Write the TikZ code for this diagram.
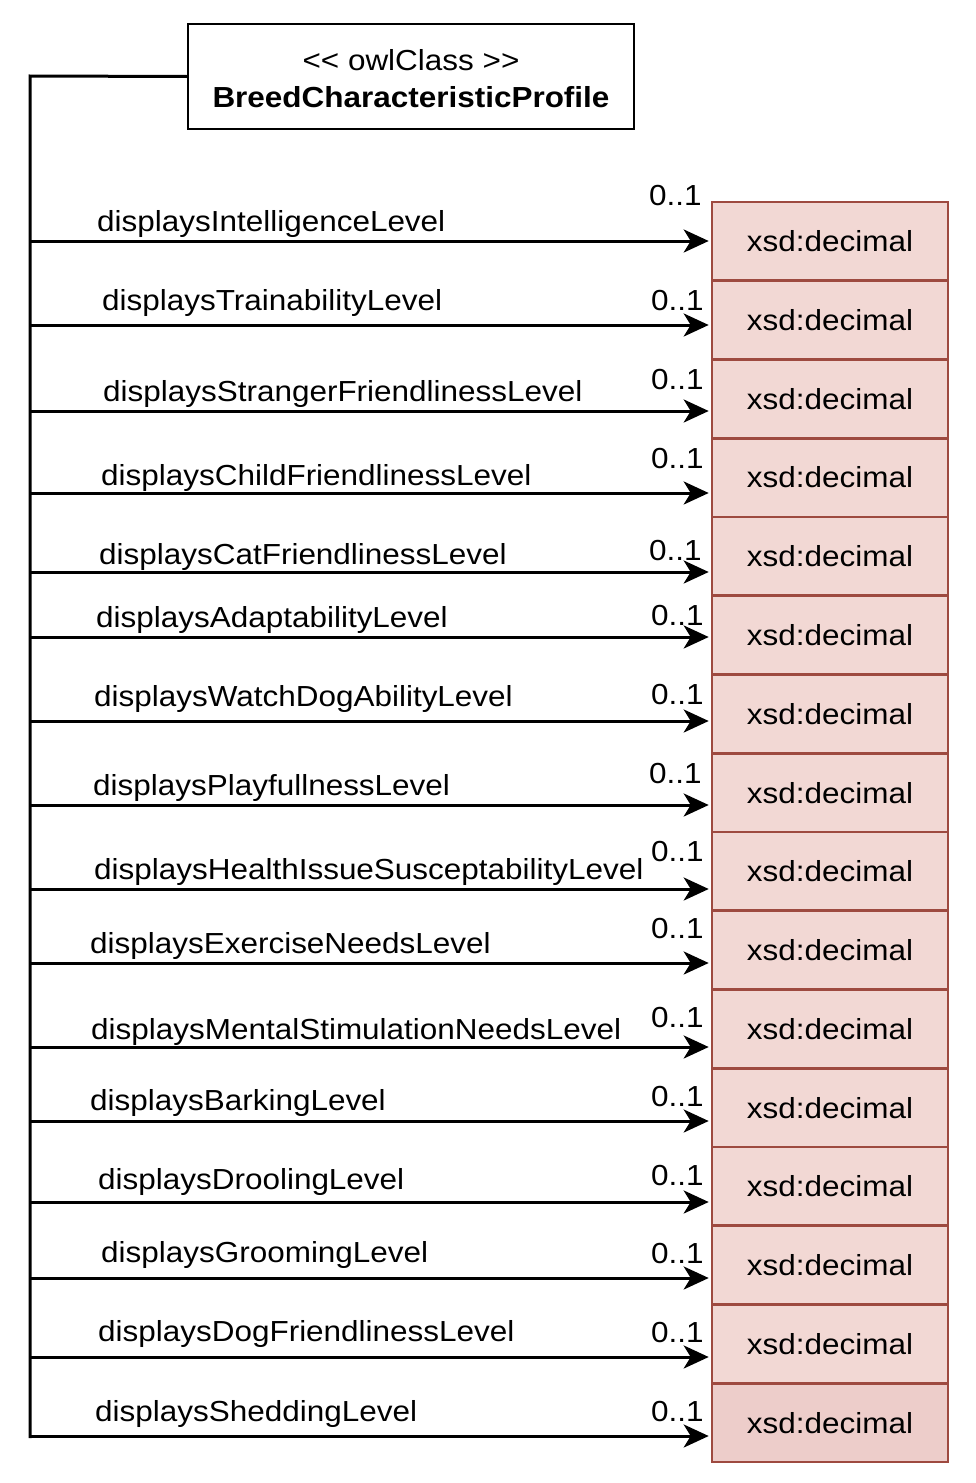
\documentclass[tikz,border=0pt]{standalone}
\usepackage{fontspec}
\setmainfont[FakeStretch=1.085]{Liberation Sans}
\usetikzlibrary{arrows.meta}
\definecolor{typefill}{HTML}{F2D8D4}
\definecolor{typefilllast}{HTML}{EDCDCA}
\definecolor{typeline}{HTML}{9E4A40}
\begin{document}
\begin{tikzpicture}[x=1pt,y=-1pt,
  every node/.style={font=\fontsize{29}{34}\selectfont, inner sep=0pt},
  classbox/.style={draw=black, line width=2.2pt, fill=white, minimum width=446pt, minimum height=105pt},
  typebox/.style={draw=typeline, line width=2.6pt, fill=typefill, minimum width=236pt, minimum height=78.75pt},
  lab/.style={anchor=base west},
  assoc/.style={line width=3pt, -{Stealth[length=25pt, width=23pt, inset=7pt]}, shorten >=2pt},
  trunk/.style={line width=3pt}]
\useasboundingbox (0,0) rectangle (976,1483);

% class box
\node[classbox] (cls) at (411,76.5) {};
\node (stereo) at (411,60) {<\kern0pt< owlClass >\kern0pt>};
\node[font=\fontsize{29}{34}\selectfont\bfseries] (cname) at (411,97) {BreedCharacteristicProfile};

% datatype column
\foreach \i in {1,...,16} {
  \pgfmathsetmacro{\cy}{241.375+(\i-1)*78.75}
  \node[typebox] (t\i) at (830,\cy) {xsd:decimal};
}
\node[typebox, fill=typefilllast] (t16) at (830,{241.375+15*78.75}) {xsd:decimal};

% common trunk
\coordinate (ttop) at (30,76);
\coordinate (tbot) at (30,1438);
\draw[trunk] (cls.west) -- (ttop) -- (tbot);

% properties: index / arrow y / label x / label baseline / multiplicity x / multiplicity baseline / name
\foreach \i/\ay/\lx/\ly/\mx/\my/\txt in {
  1/241/97/231.5/649/205.5/displaysIntelligenceLevel,
  2/325/102/310.5/651/310.5/displaysTrainabilityLevel,
  3/411/103/401.5/651/389.5/displaysStrangerFriendlinessLevel,
  4/493/101/485.5/651/468.5/displaysChildFriendlinessLevel,
  5/572/99/564.5/649/560.5/displaysCatFriendlinessLevel,
  6/637/96/627.5/651/625.5/displaysAdaptabilityLevel,
  7/721/94/706.5/651/704.5/displaysWatchDogAbilityLevel,
  8/805/93/795.5/649/783.5/displaysPlayfullnessLevel,
  9/889/94/879.5/651/861.5/displaysHealthIssueSusceptabilityLevel,
  10/963/90/953.5/651/938.5/displaysExerciseNeedsLevel,
  11/1047/91/1039.5/651/1027.5/displaysMentalStimulationNeedsLevel,
  12/1121/90/1110.5/651/1106.5/displaysBarkingLevel,
  13/1202/98/1189.5/651/1185.5/displaysDroolingLevel,
  14/1278/101/1262.5/651/1263.5/displaysGroomingLevel,
  15/1357/98/1341.5/651/1342.5/displaysDogFriendlinessLevel,
  16/1436/95/1421.5/651/1421.5/displaysSheddingLevel} {
  \coordinate (s\i) at (30,\ay);
  \draw[assoc] (s\i) -- (t\i.west |- s\i);
  \node[lab] (l\i) at (\lx,\ly) {\txt};
  \node[lab] (m\i) at (\mx,\my) {0..1};
}
\end{tikzpicture}
\end{document}
